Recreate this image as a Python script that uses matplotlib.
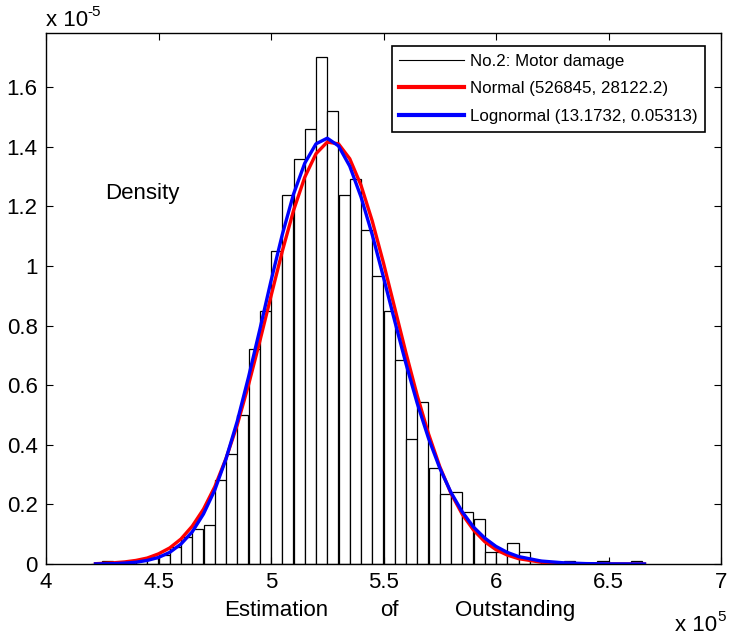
import matplotlib
matplotlib.use('Agg')
import matplotlib.pyplot as plt
from matplotlib.lines import Line2D

plt.rcParams['font.family'] = ['Liberation Sans', 'DejaVu Sans']

# histogram bins (left edges, x 10^5) and density (x 10^-5)
bin_left = [4.20, 4.25, 4.30, 4.35, 4.40, 4.45, 4.50, 4.55, 4.60, 4.65,
            4.70, 4.75, 4.80, 4.85, 4.90, 4.95, 5.00, 5.05, 5.10, 5.15,
            5.20, 5.25, 5.30, 5.35, 5.40, 5.45, 5.50, 5.55, 5.60, 5.65,
            5.70, 5.75, 5.80, 5.85, 5.90, 5.95, 6.00, 6.05, 6.10, 6.15,
            6.20, 6.25, 6.30, 6.35, 6.40, 6.45, 6.50, 6.55, 6.60]
density = [0.0, 0.011, 0.0, 0.0, 0.013, 0.019, 0.030, 0.058, 0.092, 0.118,
           0.130, 0.281, 0.370, 0.501, 0.720, 0.849, 1.051, 1.239, 1.359, 1.459,
           1.700, 1.521, 1.239, 1.291, 1.120, 0.967, 0.850, 0.684, 0.421, 0.542,
           0.323, 0.235, 0.241, 0.173, 0.151, 0.041, 0.041, 0.072, 0.041, 0.013,
           0.0, 0.0, 0.011, 0.0, 0.0, 0.011, 0.0, 0.0, 0.011]
bin_width = 0.05

# fitted curves
curve_x = [4.22, 4.30, 4.35, 4.40, 4.45, 4.50, 4.55, 4.60, 4.65, 4.70,
           4.75, 4.80, 4.85, 4.90, 4.95, 5.00, 5.05, 5.10, 5.15, 5.20,
           5.25, 5.30, 5.35, 5.40, 5.45, 5.50, 5.55, 5.60, 5.65, 5.70,
           5.75, 5.80, 5.85, 5.90, 5.95, 6.00, 6.05, 6.10, 6.20, 6.30,
           6.40, 6.50, 6.66]
normal_y = [0.001, 0.004, 0.007, 0.012, 0.020, 0.034, 0.054, 0.084, 0.127, 0.184,
            0.259, 0.354, 0.467, 0.601, 0.747, 0.899, 1.049, 1.186, 1.298, 1.377,
            1.416, 1.410, 1.360, 1.271, 1.151, 1.010, 0.859, 0.708, 0.565, 0.437,
            0.327, 0.237, 0.167, 0.114, 0.075, 0.048, 0.030, 0.018, 0.006, 0.002,
            0.0004, 0.0, 0.0]
lognormal_y = [0.0003, 0.0013, 0.003, 0.006, 0.012, 0.022, 0.039, 0.067, 0.108, 0.168,
               0.248, 0.353, 0.479, 0.627, 0.786, 0.950, 1.105, 1.241, 1.345, 1.410,
               1.429, 1.403, 1.335, 1.232, 1.105, 0.962, 0.815, 0.672, 0.539, 0.422,
               0.322, 0.240, 0.175, 0.124, 0.087, 0.059, 0.039, 0.025, 0.010, 0.004,
               0.0013, 0.0004, 0.0001]

legend_labels = ['No.2: Motor damage', 'Normal (526845, 28122.2)',
                 'Lognormal (13.1732, 0.05313)']
x_ticks = [4, 4.5, 5, 5.5, 6, 6.5, 7]
x_tick_labels = ['4', '4.5', '5', '5.5', '6', '6.5', '7']
y_ticks = [0, 0.2, 0.4, 0.6, 0.8, 1.0, 1.2, 1.4, 1.6]
y_tick_labels = ['0', '0.2', '0.4', '0.6', '0.8', '1', '1.2', '1.4', '1.6']

fig = plt.figure(figsize=(7.29, 6.37), dpi=100)
ax = fig.add_axes([46 / 729, 1 - 564 / 637, 675 / 729, 531 / 637])

ax.bar(bin_left, density, width=bin_width, align='edge', color='white',
       edgecolor='black', linewidth=0.9)
ax.plot(curve_x, normal_y, color='red', lw=2.4)
ax.plot(curve_x, lognormal_y, color='blue', lw=2.4)

ax.set_xlim(4, 7)
ax.set_ylim(0, 1.782)
ax.set_xticks(x_ticks)
ax.set_xticklabels(x_tick_labels)
ax.set_yticks(y_ticks)
ax.set_yticklabels(y_tick_labels)
ax.tick_params(direction='in', top=True, right=True, length=5, width=0.8,
               labelsize=16, pad=6)
for sp in ax.spines.values():
    sp.set_linewidth(1.0)

# exponent labels (MATLAB style)
fig.text(46 / 729, 1 - 26 / 637, 'x 10', fontsize=16, ha='left', va='baseline')
fig.text(87 / 729, 1 - 16 / 637, '-5', fontsize=11, ha='left', va='baseline')
fig.text(675 / 729, 1 - 631 / 637, 'x 10', fontsize=16, ha='left', va='baseline')
fig.text(717 / 729, 1 - 621 / 637, '5', fontsize=11, ha='left', va='baseline')

# axis label pieces
ax.text(0.341, -0.087, 'Estimation', transform=ax.transAxes, fontsize=16,
        ha='center', va='center')
ax.text(0.509, -0.087, 'of', transform=ax.transAxes, fontsize=16,
        ha='center', va='center')
ax.text(0.6956, -0.087, 'Outstanding', transform=ax.transAxes, fontsize=16,
        ha='center', va='center')
ax.text(4.263, 1.242, 'Density', fontsize=16, ha='left', va='center')

handles = [Line2D([0], [0], color='black', lw=0.8),
           Line2D([0], [0], color='red', lw=3.0),
           Line2D([0], [0], color='blue', lw=3.0)]
leg = ax.legend(handles, legend_labels, loc='upper right',
                bbox_to_anchor=(0.976, 0.9755), borderaxespad=0, fontsize=12.2,
                fancybox=False, edgecolor='black', framealpha=1,
                handlelength=3.8, handletextpad=0.35, borderpad=0.45,
                labelspacing=0.75)
leg.get_frame().set_linewidth(1.2)

fig.savefig('out.png', dpi=100)
